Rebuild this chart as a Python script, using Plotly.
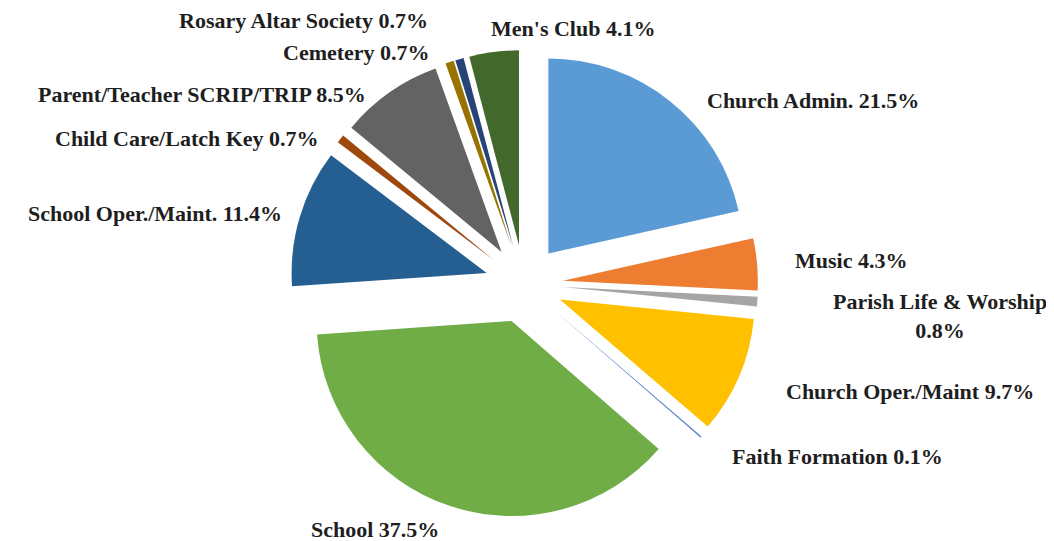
import plotly.graph_objects as go

# Data (clockwise from 12 o'clock)
categories = [
    "Church Admin.", "Music", "Parish Life & Worship", "Church Oper./Maint",
    "Faith Formation", "School", "School Oper./Maint.", "Child Care/Latch Key",
    "Parent/Teacher SCRIP/TRIP", "Cemetery", "Rosary Altar Society", "Men's Club",
]
values = [21.5, 4.3, 0.8, 9.7, 0.1, 37.5, 11.4, 0.7, 8.5, 0.7, 0.7, 4.1]

colors = [
    "#5B9BD5", "#ED7D31", "#A5A5A5", "#FFC000", "#4472C4", "#70AD47",
    "#255E91", "#9E480E", "#636363", "#997300", "#264478", "#43682B",
]

# label centre positions in pixels (x, y) and line-break choice
label_pos = [
    (805, 93), (843, 253), (932, 308), (902, 383), (829, 448), (367, 521),
    (147, 206), (179, 131), (194, 86), (348, 45), (295, 13), (565, 20),
]
two_line = [False, False, True, False, False, False, False, False, False, False, False, False]

W, H = 1054, 541
CX, CY, HALF = 516, 276, 234

fig = go.Figure(go.Pie(
    labels=categories,
    values=values,
    sort=False,
    direction="clockwise",
    rotation=0,
    pull=[0.2] * len(values),
    marker=dict(colors=colors, line=dict(width=0)),
    textinfo="none",
    hoverinfo="label+percent",
    domain=dict(x=[(CX - HALF) / W, (CX + HALF) / W],
                y=[1 - (CY + HALF) / H, 1 - (CY - HALF) / H]),
    showlegend=False,
))

for cat, val, (px, py), tl in zip(categories, values, label_pos, two_line):
    sep = "<br>" if tl else " "
    fig.add_annotation(
        x=px / W, y=1 - py / H, xref="paper", yref="paper",
        text=f"<b>{cat}{sep}{val:.1f}%</b>",
        showarrow=False, xanchor="center", yanchor="middle",
        font=dict(family="Liberation Serif", size=22, color="#1e1e1e"),
        align="center", borderpad=0,
    )

fig.update_layout(
    width=W, height=H,
    margin=dict(l=0, r=0, t=0, b=0),
    paper_bgcolor="white",
    plot_bgcolor="white",
)

fig.write_html("out.html")
